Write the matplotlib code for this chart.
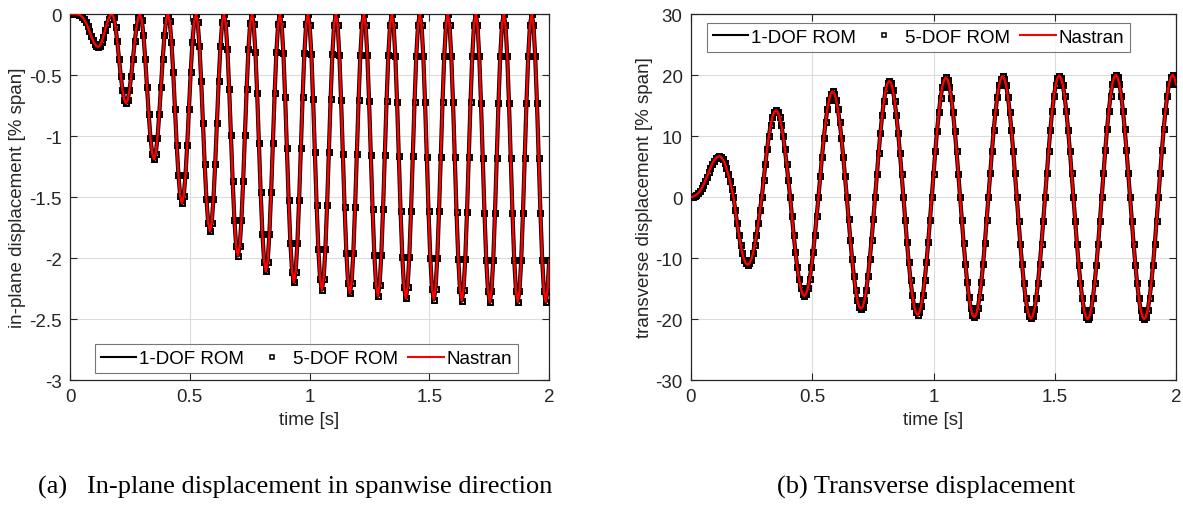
import numpy as np
import matplotlib
matplotlib.use("Agg")
import matplotlib.pyplot as plt
from matplotlib.lines import Line2D
from matplotlib.ticker import FormatStrFormatter

sample_dt = 0.0073

# transverse tip displacement [% span]
# ROM and Nastran traces coincide, so one set of values is used for all three
transverse = [
    0.00, 0.05, 0.18, 0.36, 0.60, 0.95, 1.40, 2.00, 2.65, 3.35, 4.10, 4.80, 5.45, 5.95, 6.35, 6.60,
    6.70, 6.57, 6.19, 5.57, 4.74, 3.72, 2.56, 1.31, 0.00,
    -2.17, -4.25, -6.17, -7.85, -9.23, -10.26, -10.89, -11.10, -10.89, -10.26, -9.23, -7.85, -6.17, -4.25, -2.17, 0.00,
    2.77, 5.43, 7.89, 10.04, 11.81, 13.12, 13.93, 14.20, 13.93, 13.12, 11.81, 10.04, 7.89, 5.43, 2.77, 0.00,
    -3.16, -6.20, -9.00, -11.46, -13.47, -14.97, -15.89, -16.20, -15.89, -14.97, -13.47, -11.46, -9.00, -6.20, -3.16, 0.00,
    3.38, 6.62, 9.61, 12.23, 14.38, 15.98, 16.97, 17.30, 16.97, 15.98, 14.38, 12.23, 9.61, 6.62, 3.38, 0.00,
    -3.57, -7.00, -10.17, -12.94, -15.22, -16.91, -17.95, -18.30, -17.95, -16.91, -15.22, -12.94, -10.17, -7.00, -3.57, 0.00,
    3.71, 7.27, 10.56, 13.43, 15.80, 17.55, 18.64, 19.00, 18.64, 17.55, 15.80, 13.43, 10.56, 7.27, 3.71, 0.00,
    -3.77, -7.39, -10.72, -13.65, -16.05, -17.83, -18.93, -19.30, -18.93, -17.83, -16.05, -13.65, -10.72, -7.39, -3.77, 0.00,
    3.82, 7.50, 10.89, 13.86, 16.30, 18.11, 19.22, 19.60, 19.22, 18.11, 16.30, 13.86, 10.89, 7.50, 3.82, 0.00,
    -3.84, -7.54, -10.95, -13.93, -16.38, -18.20, -19.32, -19.70, -19.32, -18.20, -16.38, -13.93, -10.95, -7.54, -3.84, 0.00,
    3.86, 7.58, 11.00, 14.00, 16.46, 18.29, 19.42, 19.80, 19.42, 18.29, 16.46, 14.00, 11.00, 7.58, 3.86, 0.00,
    -3.88, -7.62, -11.06, -14.07, -16.55, -18.39, -19.52, -19.90, -19.52, -18.39, -16.55, -14.07, -11.06, -7.62, -3.88, 0.00,
    3.88, 7.62, 11.06, 14.07, 16.55, 18.39, 19.52, 19.90, 19.52, 18.39, 16.55, 14.07, 11.06, 7.62, 3.88, 0.00,
    -3.90, -7.65, -11.11, -14.14, -16.63, -18.48, -19.62, -20.00, -19.62, -18.48, -16.63, -14.14, -11.11, -7.65, -3.90, 0.00,
    3.90, 7.65, 11.11, 14.14, 16.63, 18.48, 19.62, 20.00, 19.62, 18.48, 16.63, 14.14, 11.11, 7.65, 3.90, 0.00,
    -3.90, -7.65, -11.11, -14.14, -16.63, -18.48, -19.62, -20.00, -19.62, -18.48, -16.63, -14.14, -11.11, -7.65, -3.90, 0.00,
    3.90, 7.65, 11.11, 14.14, 16.63, 18.48, 19.62, 20.00, 19.62, 18.48,
]

# in-plane (spanwise) tip displacement [% span]
inplane = [
    0.000, 0.000, 0.000, -0.001, -0.002, -0.005, -0.012, -0.024, -0.042, -0.068, -0.101, -0.139, -0.179, -0.213, -0.243, -0.262,
    -0.270, -0.260, -0.231, -0.187, -0.135, -0.083, -0.040, -0.010, 0.000,
    -0.028, -0.107, -0.225, -0.365, -0.505, -0.623, -0.702, -0.730, -0.702, -0.623, -0.505, -0.365, -0.225, -0.107, -0.028, 0.000,
    -0.045, -0.174, -0.367, -0.595, -0.823, -1.016, -1.145, -1.190, -1.145, -1.016, -0.823, -0.595, -0.367, -0.174, -0.045, 0.000,
    -0.059, -0.227, -0.478, -0.775, -1.072, -1.323, -1.491, -1.550, -1.491, -1.323, -1.072, -0.775, -0.478, -0.227, -0.059, 0.000,
    -0.068, -0.261, -0.550, -0.890, -1.231, -1.519, -1.712, -1.780, -1.712, -1.519, -1.231, -0.890, -0.550, -0.261, -0.068, 0.000,
    -0.075, -0.290, -0.611, -0.990, -1.369, -1.690, -1.905, -1.980, -1.905, -1.690, -1.369, -0.990, -0.611, -0.290, -0.075, 0.000,
    -0.080, -0.309, -0.651, -1.055, -1.459, -1.801, -2.030, -2.110, -2.030, -1.801, -1.459, -1.055, -0.651, -0.309, -0.080, 0.000,
    -0.084, -0.322, -0.679, -1.100, -1.521, -1.878, -2.116, -2.200, -2.116, -1.878, -1.521, -1.100, -0.679, -0.322, -0.084, 0.000,
    -0.086, -0.331, -0.698, -1.130, -1.562, -1.929, -2.174, -2.260, -2.174, -1.929, -1.562, -1.130, -0.698, -0.331, -0.086, 0.000,
    -0.087, -0.335, -0.707, -1.145, -1.583, -1.955, -2.203, -2.290, -2.203, -1.955, -1.583, -1.145, -0.707, -0.335, -0.087, 0.000,
    -0.088, -0.338, -0.713, -1.155, -1.597, -1.972, -2.222, -2.310, -2.222, -1.972, -1.597, -1.155, -0.713, -0.338, -0.088, 0.000,
    -0.089, -0.341, -0.719, -1.165, -1.611, -1.989, -2.241, -2.330, -2.241, -1.989, -1.611, -1.165, -0.719, -0.341, -0.089, 0.000,
    -0.089, -0.343, -0.722, -1.170, -1.618, -1.997, -2.251, -2.340, -2.251, -1.997, -1.618, -1.170, -0.722, -0.343, -0.089, 0.000,
    -0.090, -0.344, -0.725, -1.175, -1.625, -2.006, -2.261, -2.350, -2.261, -2.006, -1.625, -1.175, -0.725, -0.344, -0.090, 0.000,
    -0.090, -0.346, -0.729, -1.180, -1.632, -2.015, -2.270, -2.360, -2.270, -2.015, -1.632, -1.180, -0.729, -0.346, -0.090, 0.000,
    -0.090, -0.346, -0.729, -1.180, -1.632, -2.015, -2.270, -2.360, -2.270, -2.015, -1.632, -1.180, -0.729, -0.346, -0.090, 0.000,
    -0.090, -0.346, -0.729, -1.180, -1.632, -2.015, -2.270, -2.360, -2.270, -2.015,
]

series_labels = ["1-DOF ROM", "5-DOF ROM", "Nastran"]
xticks = [0, 0.5, 1, 1.5, 2]
yticks_inplane = [-3, -2.5, -2, -1.5, -1, -0.5, 0]
yticks_transverse = [-30, -20, -10, 0, 10, 20, 30]

plt.rcParams["font.family"] = ["Liberation Sans", "DejaVu Sans"]
plt.rcParams["axes.unicode_minus"] = False
INK = "#262626"
FS = 13.5


def draw_panel(ax, values, ylabel, yticks, legend_loc, legend_anchor):
    t = np.arange(len(values)) * sample_dt
    ax.plot(t, values, color="black", lw=3.0, zorder=2)
    ax.plot(t, values, ls="none", marker="s", ms=3.6, mfc="none", mec="black", mew=1.4, zorder=3)
    ax.plot(t, values, color="red", lw=1.7, zorder=4)
    ax.set_xlim(0, 2)
    ax.set_ylim(yticks[0], yticks[-1])
    ax.set_xticks(xticks)
    ax.set_yticks(yticks)
    ax.xaxis.set_major_formatter(FormatStrFormatter("%g"))
    ax.yaxis.set_major_formatter(FormatStrFormatter("%g"))
    ax.grid(True, color="#dcdcdc", lw=0.8)
    ax.set_axisbelow(True)
    ax.tick_params(direction="in", top=True, right=True, length=5, width=0.8,
                   labelsize=FS, colors=INK, pad=6)
    for spine in ax.spines.values():
        spine.set_color(INK)
        spine.set_linewidth(0.9)
    ax.set_xlabel("time [s]", fontsize=FS, color=INK, labelpad=4)
    ax.set_ylabel(ylabel, fontsize=FS, color=INK, labelpad=2)

    handles = [
        Line2D([], [], color="black", lw=1.5),
        Line2D([], [], ls="none", marker="s", ms=3.4, mfc="none", mec="black", mew=1.1),
        Line2D([], [], color="red", lw=1.5),
    ]
    leg = ax.legend(handles, series_labels, loc=legend_loc, bbox_to_anchor=legend_anchor,
                    ncol=3, fontsize=FS, frameon=True, fancybox=False,
                    handlelength=1.9, handletextpad=0.15, columnspacing=0.55,
                    borderpad=0.3, borderaxespad=0.0)
    leg.get_frame().set_edgecolor("#555555")
    leg.get_frame().set_linewidth(0.8)


fig = plt.figure(figsize=(11.83, 5.06), dpi=100)
ax_a = fig.add_axes([0.0592, 0.247, 0.405, 0.7233])
ax_b = fig.add_axes([0.5841, 0.247, 0.410, 0.7233])

draw_panel(ax_a, inplane, "in-plane displacement [% span]", yticks_inplane,
           "lower left", (0.052, 0.02))
draw_panel(ax_b, transverse, "transverse displacement [% span]", yticks_transverse,
           "upper left", (0.033, 0.975))

serif = ["Liberation Serif", "DejaVu Serif"]
fig.text(0.2498, 0.0375, "(a)   In-plane displacement in spanwise direction",
         ha="center", va="center", fontsize=19, family=serif)
fig.text(0.7824, 0.0375, "(b) Transverse displacement",
         ha="center", va="center", fontsize=19, family=serif)

fig.savefig("out.png", dpi=100)
